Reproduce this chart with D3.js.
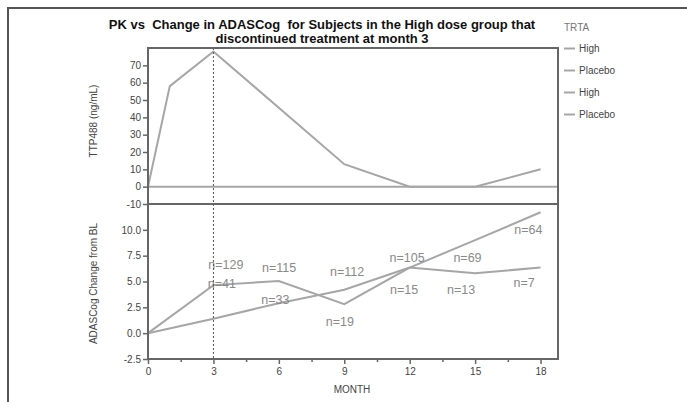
<!DOCTYPE html>
<html>
<head>
<meta charset="utf-8">
<script src="https://cdn.jsdelivr.net/npm/d3@7"></script>
<style>
  html, body { margin: 0; padding: 0; background: #fff; }
  svg { display: block; }
  text { font-family: "Liberation Sans", Arial, sans-serif; }
</style>
</head>
<body>
<svg id="chart" width="687" height="402"></svg>
<script>
// PK profile (TTP488 concentration, ng/mL) by month
const pkMonths = [0, 1, 3, 9, 12, 15, 18];
const pkHigh = [0, 58, 78, 13, 0, 0, 10];

// ADAS-Cog change from baseline by month
const adasMonths = [0, 3, 6, 9, 12, 15, 18];
const adasHighA = [0, 1.4, 2.9, 4.2, 6.35, 9.0, 11.7];
const adasHighB = [0, 4.65, 5.05, 2.8, 6.35, 5.8, 6.35];

// subject-count annotations: text, month, value where the label sits
const nText = ["n=129", "n=41", "n=115", "n=33", "n=112", "n=19",
               "n=105", "n=15", "n=69", "n=13", "n=64", "n=7"];
const nMonth = [3.57, 3.39, 6.01, 5.84, 9.13, 8.8, 11.88, 11.74, 14.65, 14.36, 17.44, 17.25];
const nValue = [6.57, 4.74, 6.31, 3.2, 5.92, 1.12, 7.27, 4.16, 7.27, 4.16, 10.03, 4.81];

// axis ticks
const monthTicks = [0, 3, 6, 9, 12, 15, 18];
const monthMinor = [1.5, 4.5, 7.5, 10.5, 13.5, 16.5];
const pkTicks = [-10, 0, 10, 20, 30, 40, 50, 60, 70];
const adasTicks = [-2.5, 0, 2.5, 5, 7.5, 10];

const legendLabels = ["High", "Placebo", "High", "Placebo"];
const titleLines = ["PK vs  Change in ADASCog  for Subjects in the High dose group that",
                    "discontinued treatment at month 3"];

const svg = d3.select("#chart");
const L = 148, R = 558, T = 48, M = 204, B = 359;
const lineGray = "#a6a6a6", axisGray = "#666";

const x = d3.scaleLinear().domain([0, 18.8]).range([L, R]);
const yTop = d3.scaleLinear().domain([-10, 80]).range([M, T]);
const yBot = d3.scaleLinear().domain([-2.5, 12.5]).range([B, M]);

// outer frame (open to the right/bottom)
svg.append("path")
  .attr("d", "M8,402 L8,8 L687,8")
  .attr("fill", "none").attr("stroke", "#555").attr("stroke-width", 2);

// title
svg.selectAll("text.title").data(titleLines).join("text")
  .attr("class", "title")
  .attr("x", 322).attr("y", (d, i) => 29 + i * 14)
  .attr("text-anchor", "middle")
  .style("white-space", "pre")
  .attr("font-size", 13).attr("font-weight", "bold").attr("fill", "#111")
  .text(d => d);

// zero reference line in PK panel
svg.append("line")
  .attr("x1", L).attr("x2", R).attr("y1", yTop(0)).attr("y2", yTop(0))
  .attr("stroke", lineGray).attr("stroke-width", 2);

// PK line
const pkLine = d3.line().x(d => x(d[0])).y(d => yTop(d[1]));
svg.append("path")
  .datum(pkMonths.map((m, i) => [m, pkHigh[i]]))
  .attr("d", pkLine).attr("fill", "none")
  .attr("stroke", lineGray).attr("stroke-width", 2);

// ADAS lines
const adasLine = d3.line().x(d => x(d[0])).y(d => yBot(d[1]));
[adasHighA, adasHighB].forEach(vals => {
  svg.append("path")
    .datum(adasMonths.map((m, i) => [m, vals[i]]))
    .attr("d", adasLine).attr("fill", "none")
    .attr("stroke", lineGray).attr("stroke-width", 2);
});

// n labels
svg.selectAll("text.nlab").data(nText).join("text")
  .attr("class", "nlab")
  .attr("x", (d, i) => x(nMonth[i])).attr("y", (d, i) => yBot(nValue[i]))
  .attr("text-anchor", "middle").attr("dominant-baseline", "central")
  .attr("font-family", "Lato, 'Open Sans', sans-serif")
  .attr("font-size", 12.5).attr("fill", "#8a8a8a")
  .text(d => d);

// discontinuation marker at month 3
svg.append("line")
  .attr("x1", x(3)).attr("x2", x(3)).attr("y1", T).attr("y2", B)
  .attr("stroke", "#555").attr("stroke-width", 1).attr("stroke-dasharray", "2,2");

// panel borders
svg.append("rect")
  .attr("x", L).attr("y", T).attr("width", R - L).attr("height", B - T)
  .attr("fill", "none").attr("stroke", axisGray).attr("stroke-width", 2);
svg.append("line")
  .attr("x1", L).attr("x2", R).attr("y1", M).attr("y2", M)
  .attr("stroke", axisGray).attr("stroke-width", 2);

function styleAxis(g) {
  g.select(".domain").remove();
  g.selectAll(".tick line").attr("stroke", axisGray).attr("stroke-width", 1.5);
  g.selectAll(".tick text")
    .attr("font-family", "'Liberation Sans', Arial, sans-serif")
    .attr("font-size", 10).attr("fill", "#444");
}

svg.append("g").attr("transform", `translate(${L},0)`)
  .call(d3.axisLeft(yTop).tickValues(pkTicks).tickSize(5).tickPadding(2)
    .tickFormat(d => String(d)))
  .call(styleAxis);

svg.append("g").attr("transform", `translate(${L},0)`)
  .call(d3.axisLeft(yBot).tickValues(adasTicks).tickSize(5).tickPadding(2)
    .tickFormat(d => d.toFixed(1)))
  .call(styleAxis);

svg.append("g").attr("transform", `translate(0,${B})`)
  .call(d3.axisBottom(x).tickValues(monthTicks).tickSize(5).tickPadding(4)
    .tickFormat(d => String(d)))
  .call(styleAxis);

svg.append("g").attr("transform", `translate(0,${B})`)
  .call(d3.axisBottom(x).tickValues(monthMinor).tickSize(3).tickFormat(""))
  .call(styleAxis);

// axis titles
svg.append("text")
  .attr("transform", `translate(97,${(T + M) / 2 - 5}) rotate(-90)`)
  .attr("text-anchor", "middle")
  .attr("font-size", 10).attr("fill", "#444")
  .text("TTP488 (ng/mL)");
svg.append("text")
  .attr("transform", `translate(97,${(M + B) / 2 + 2}) rotate(-90)`)
  .attr("text-anchor", "middle")
  .attr("font-size", 10).attr("fill", "#444")
  .text("ADASCog Change from BL");
svg.append("text")
  .attr("x", 352).attr("y", 393)
  .attr("text-anchor", "middle")
  .attr("font-size", 10).attr("fill", "#444")
  .text("MONTH");

// legend
const lg = svg.append("g");
lg.append("text").attr("x", 564).attr("y", 31)
  .attr("font-size", 10).attr("fill", "#777").text("TRTA");
const rows = lg.selectAll("g.row").data(legendLabels).join("g")
  .attr("class", "row")
  .attr("transform", (d, i) => `translate(564,${48.5 + i * 22})`);
rows.append("line").attr("x1", 0).attr("x2", 11).attr("y1", 0).attr("y2", 0)
  .attr("stroke", lineGray).attr("stroke-width", 2);
rows.append("text").attr("x", 15).attr("y", 0).attr("dominant-baseline", "central")
  .attr("font-size", 10).attr("fill", "#444").text(d => d);
</script>
</body>
</html>
